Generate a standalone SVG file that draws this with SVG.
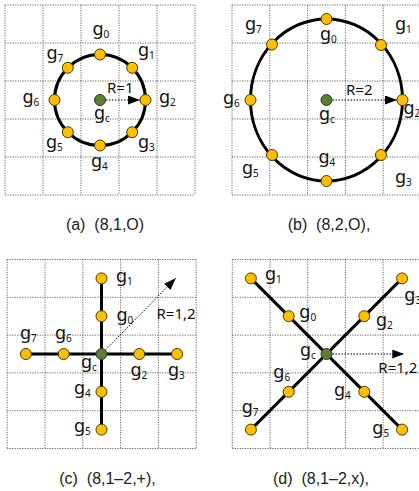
<svg xmlns="http://www.w3.org/2000/svg" width="419" height="491" viewBox="0 0 419 491">
<defs>
<style>
.grid{fill:none;stroke:#666;stroke-width:1;stroke-dasharray:1.2 1.3}
.thick{fill:none;stroke:#000;stroke-width:3}
.arrow{fill:none;stroke:#000;stroke-width:1;stroke-dasharray:1.5 1.5;marker-end:url(#ah)}
.n{fill:#FFBF00;stroke:#4a3a00;stroke-width:1}
.c{fill:#5E7D34;stroke:#2e3d18;stroke-width:1}
.lb{font-family:"Noto Sans","DejaVu Sans",sans-serif;font-size:18px;fill:#111}
.sub{font-size:10px}
.r{font-family:"Noto Sans","DejaVu Sans",sans-serif;font-size:15px;fill:#111}
.cap{font-family:"Liberation Sans",Arial,sans-serif;font-size:16px;fill:#222;text-anchor:middle;white-space:pre}
</style>
<marker id="ah" markerWidth="12" markerHeight="9" refX="12" refY="4.5" orient="auto" markerUnits="userSpaceOnUse">
<path d="M0,0 L12,4.5 L0,9 Z" fill="#000"/>
</marker>
</defs>

<g id="grids">
<path class="grid" d="M5,5H195M5,43H195M5,81H195M5,119H195M5,157H195M5,195H195M5,5V195M43,5V195M81,5V195M119,5V195M157,5V195M195,5V195"/>
<path class="grid" d="M232,5H421M232,43H421M232,81H421M232,119H421M232,157H421M232,195H421M232,5V195M269.8,5V195M307.6,5V195M345.4,5V195M383.2,5V195M421,5V195"/>
<path class="grid" d="M7.2,259.5H196.2M7.2,297.3H196.2M7.2,335.1H196.2M7.2,372.9H196.2M7.2,410.7H196.2M7.2,448.5H196.2M7.2,259.5V448.5M45,259.5V448.5M82.8,259.5V448.5M120.6,259.5V448.5M158.4,259.5V448.5M196.2,259.5V448.5"/>
<path class="grid" d="M232.3,259.5H421M232.3,297.3H421M232.3,335.1H421M232.3,372.9H421M232.3,410.7H421M232.3,448.5H421M232.3,259.5V448.5M270,259.5V448.5M307.7,259.5V448.5M345.4,259.5V448.5M383.1,259.5V448.5M420.8,259.5V448.5"/>
</g>

<g id="connectors">
<circle class="thick" cx="100" cy="100" r="45.5"/>
<ellipse class="thick" cx="326.5" cy="100" rx="76" ry="81"/>
<path class="thick" d="M101.5,278.4V429.6M25.9,354H177.1"/>
<path class="thick" d="M250.9,278.4L402.1,429.6M250.9,429.6L402.1,278.4"/>
<path class="arrow" d="M100,100H140"/>
<path class="arrow" d="M326.5,100H397"/>
<path class="arrow" d="M101.5,354L175.7,278.3"/>
<path class="arrow" d="M326.5,354H404.3"/>
</g>

<g id="panel-a">
<g id="a-g0"><circle class="n" cx="100" cy="54.5" r="5.5"/><text class="lb" x="92.5" y="35">g<tspan class="sub" dy="3.3">0</tspan></text></g>
<g id="a-g1"><circle class="n" cx="132.2" cy="67.8" r="5.5"/><text class="lb" x="138" y="56">g<tspan class="sub" dy="3.3">1</tspan></text></g>
<g id="a-g2"><circle class="n" cx="145.5" cy="100" r="5.5"/><text class="lb" x="159" y="103">g<tspan class="sub" dy="3.3">2</tspan></text></g>
<g id="a-g3"><circle class="n" cx="132.2" cy="132.2" r="5.5"/><text class="lb" x="138" y="148">g<tspan class="sub" dy="3.3">3</tspan></text></g>
<g id="a-g4"><circle class="n" cx="100" cy="145.5" r="5.5"/><text class="lb" x="91" y="167">g<tspan class="sub" dy="3.3">4</tspan></text></g>
<g id="a-g5"><circle class="n" cx="67.8" cy="132.2" r="5.5"/><text class="lb" x="46" y="148">g<tspan class="sub" dy="3.3">5</tspan></text></g>
<g id="a-g6"><circle class="n" cx="54.5" cy="100" r="5.5"/><text class="lb" x="22.5" y="103">g<tspan class="sub" dy="3.3">6</tspan></text></g>
<g id="a-g7"><circle class="n" cx="67.8" cy="67.8" r="5.5"/><text class="lb" x="46.5" y="59">g<tspan class="sub" dy="3.3">7</tspan></text></g>
<g id="a-gc"><circle class="c" cx="100" cy="100" r="5.5"/><text class="lb" x="94" y="119">g<tspan class="sub" dy="3.3">c</tspan></text></g>
<text class="r" x="107" y="93">R=1</text>
<text class="cap" x="105" y="230" xml:space="preserve">(a)  (8,1,O)</text>
</g>

<g id="panel-b">
<g id="b-g0"><circle class="n" cx="326.5" cy="19" r="5.5"/><text class="lb" x="320" y="40">g<tspan class="sub" dy="3.3">0</tspan></text></g>
<g id="b-g1"><circle class="n" cx="381" cy="45" r="5.5"/><text class="lb" x="395" y="30">g<tspan class="sub" dy="3.3">1</tspan></text></g>
<g id="b-g2"><circle class="n" cx="402.5" cy="100" r="5.5"/><text class="lb" x="403.5" y="114">g<tspan class="sub" dy="3.3">2</tspan></text></g>
<g id="b-g3"><circle class="n" cx="381" cy="155" r="5.5"/><text class="lb" x="395" y="183">g<tspan class="sub" dy="3.3">3</tspan></text></g>
<g id="b-g4"><circle class="n" cx="326.5" cy="181" r="5.5"/><text class="lb" x="318.5" y="163">g<tspan class="sub" dy="3.3">4</tspan></text></g>
<g id="b-g5"><circle class="n" cx="272" cy="155" r="5.5"/><text class="lb" x="242" y="174">g<tspan class="sub" dy="3.3">5</tspan></text></g>
<g id="b-g6"><circle class="n" cx="250.5" cy="100" r="5.5"/><text class="lb" x="223" y="104">g<tspan class="sub" dy="3.3">6</tspan></text></g>
<g id="b-g7"><circle class="n" cx="272" cy="44.5" r="5.5"/><text class="lb" x="245" y="30">g<tspan class="sub" dy="3.3">7</tspan></text></g>
<g id="b-gc"><circle class="c" cx="326.5" cy="100" r="5.5"/><text class="lb" x="319" y="120">g<tspan class="sub" dy="3.3">c</tspan></text></g>
<text class="r" x="346" y="95">R=2</text>
<text class="cap" x="329" y="230" xml:space="preserve">(b)  (8,2,O),</text>
</g>

<g id="panel-c">
<g id="c-g0"><circle class="n" cx="101.5" cy="316.2" r="5.5"/><text class="lb" x="116.5" y="321">g<tspan class="sub" dy="3.3">0</tspan></text></g>
<g id="c-g1"><circle class="n" cx="101.5" cy="278.4" r="5.5"/><text class="lb" x="116" y="282">g<tspan class="sub" dy="3.3">1</tspan></text></g>
<g id="c-g2"><circle class="n" cx="139.3" cy="354" r="5.5"/><text class="lb" x="130.5" y="376">g<tspan class="sub" dy="3.3">2</tspan></text></g>
<g id="c-g3"><circle class="n" cx="177.1" cy="354" r="5.5"/><text class="lb" x="168" y="376">g<tspan class="sub" dy="3.3">3</tspan></text></g>
<g id="c-g4"><circle class="n" cx="101.5" cy="391.8" r="5.5"/><text class="lb" x="74" y="394">g<tspan class="sub" dy="3.3">4</tspan></text></g>
<g id="c-g5"><circle class="n" cx="101.5" cy="429.6" r="5.5"/><text class="lb" x="74" y="432">g<tspan class="sub" dy="3.3">5</tspan></text></g>
<g id="c-g6"><circle class="n" cx="63.7" cy="354" r="5.5"/><text class="lb" x="55" y="339">g<tspan class="sub" dy="3.3">6</tspan></text></g>
<g id="c-g7"><circle class="n" cx="25.9" cy="354" r="5.5"/><text class="lb" x="20" y="339">g<tspan class="sub" dy="3.3">7</tspan></text></g>
<g id="c-gc"><circle class="c" cx="101.5" cy="354" r="5.5"/><text class="lb" x="81" y="368">g<tspan class="sub" dy="3.3">c</tspan></text></g>
<text class="r" x="156.5" y="319">R=1,2</text>
<text class="cap" x="107.5" y="484" xml:space="preserve">(c)  (8,1–2,+),</text>
</g>

<g id="panel-d">
<g id="d-g0"><circle class="n" cx="288.7" cy="316.2" r="5.5"/><text class="lb" x="299.3" y="318">g<tspan class="sub" dy="3.3">0</tspan></text></g>
<g id="d-g1"><circle class="n" cx="250.9" cy="278.4" r="5.5"/><text class="lb" x="265" y="280">g<tspan class="sub" dy="3.3">1</tspan></text></g>
<g id="d-g2"><circle class="n" cx="364.3" cy="316.2" r="5.5"/><text class="lb" x="376" y="326">g<tspan class="sub" dy="3.3">2</tspan></text></g>
<g id="d-g3"><circle class="n" cx="402.1" cy="278.4" r="5.5"/><text class="lb" x="404.3" y="301">g<tspan class="sub" dy="3.3">3</tspan></text></g>
<g id="d-g4"><circle class="n" cx="364.3" cy="391.8" r="5.5"/><text class="lb" x="334" y="396">g<tspan class="sub" dy="3.3">4</tspan></text></g>
<g id="d-g5"><circle class="n" cx="402.1" cy="429.6" r="5.5"/><text class="lb" x="372.3" y="434">g<tspan class="sub" dy="3.3">5</tspan></text></g>
<g id="d-g6"><circle class="n" cx="288.7" cy="391.8" r="5.5"/><text class="lb" x="273.3" y="378">g<tspan class="sub" dy="3.3">6</tspan></text></g>
<g id="d-g7"><circle class="n" cx="250.9" cy="429.6" r="5.5"/><text class="lb" x="241.7" y="413">g<tspan class="sub" dy="3.3">7</tspan></text></g>
<g id="d-gc"><circle class="c" cx="326.5" cy="354" r="5.5"/><text class="lb" x="300" y="356">g<tspan class="sub" dy="3.3">c</tspan></text></g>
<text class="r" x="378.3" y="373">R=1,2</text>
<text class="cap" x="321" y="484" xml:space="preserve">(d)  (8,1–2,x),</text>
</g>
</svg>
